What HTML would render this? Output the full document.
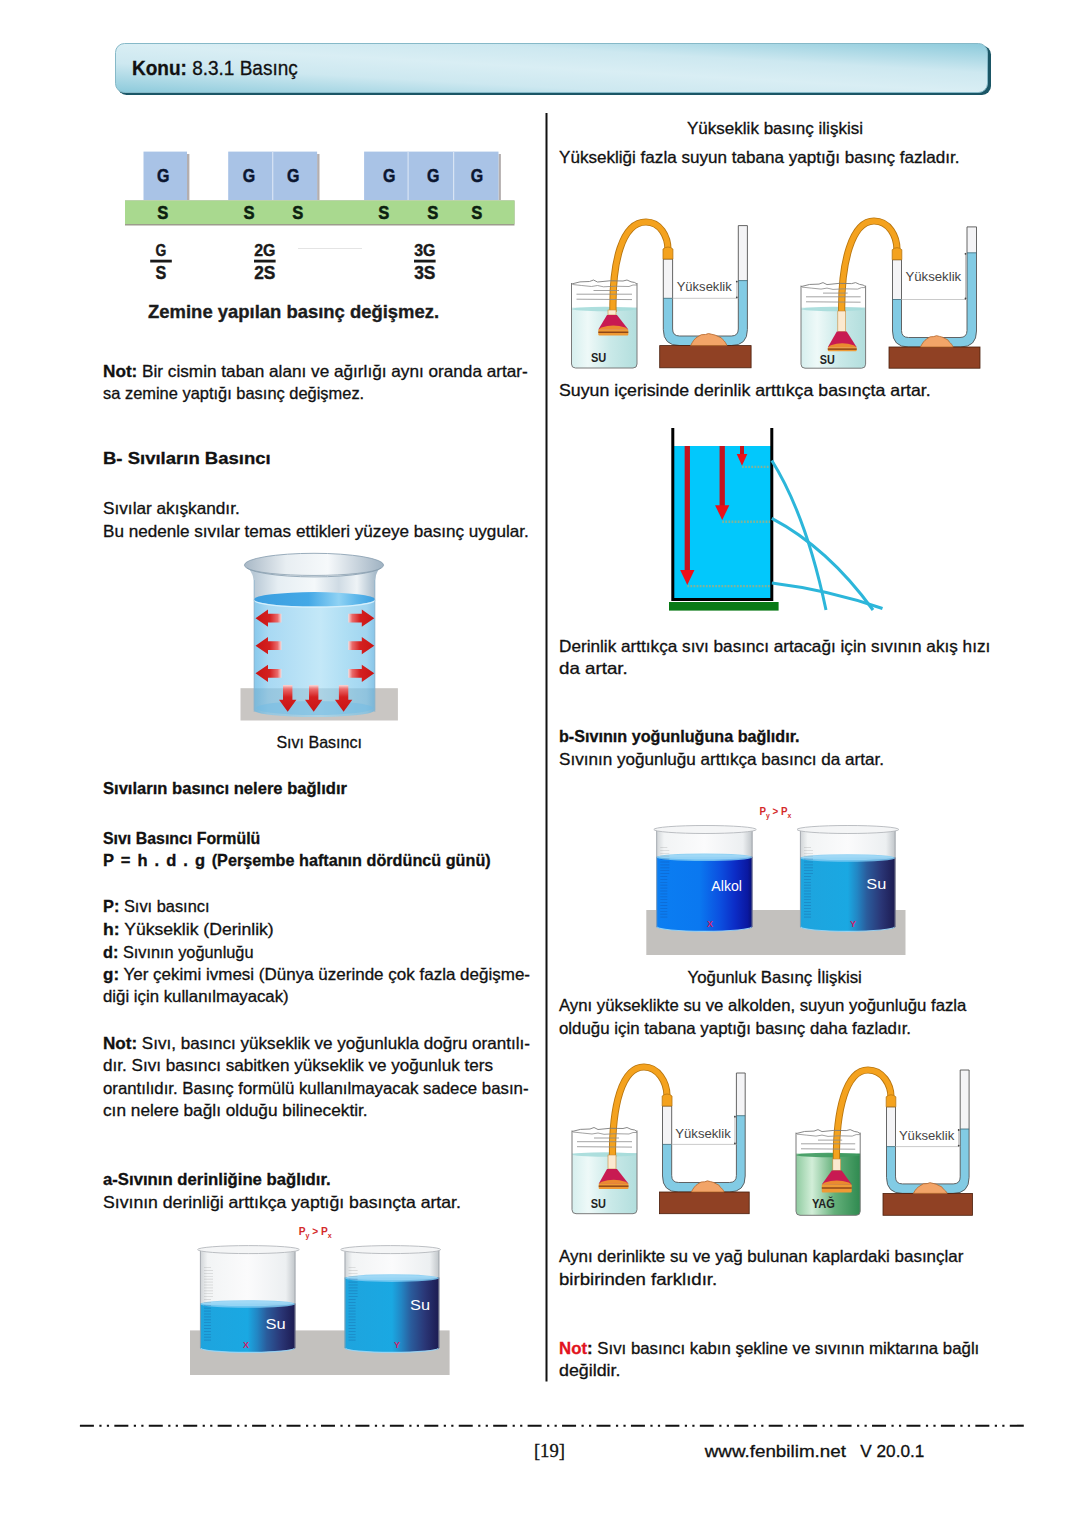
<!DOCTYPE html>
<html><head><meta charset="utf-8">
<style>
html,body{margin:0;padding:0;background:#fff;width:1080px;height:1527px;overflow:hidden}
svg{position:absolute;left:0;top:0;font-family:"Liberation Sans", sans-serif}
.bt{stroke:#111;stroke-width:0.3px}
</style></head><body>
<svg width="1080" height="1527" viewBox="0 0 1080 1527">
<defs>
<linearGradient id="hdr" x1="0" y1="1" x2="1" y2="0">
 <stop offset="0" stop-color="#8ccadb"/><stop offset="0.3" stop-color="#cde8f0"/><stop offset="0.5" stop-color="#d9eef4"/><stop offset="0.7" stop-color="#cde8f0"/><stop offset="1" stop-color="#8ccadb"/>
</linearGradient>
</defs>
<rect x="117.5" y="45.5" width="873.5" height="49.5" rx="9" fill="#1b5666"/>
<rect x="115.5" y="43.5" width="872" height="49" rx="9" fill="url(#hdr)" stroke="#86b9c8" stroke-width="1"/>
<rect x="545.5" y="113" width="2" height="1268.5" fill="#111"/>
<rect x="125" y="200.5" width="389.5" height="25" fill="#9c9c8c"/>
<rect x="125" y="200.5" width="389.5" height="23.5" fill="#a9d98f"/>
<rect x="187" y="154" width="2.4" height="46" fill="#b4aeae"/>
<rect x="143.5" y="151.6" width="43.5" height="48.4" fill="#a9c3e6"/>
<rect x="317.1" y="154" width="2.4" height="46" fill="#b4aeae"/>
<rect x="228.2" y="151.6" width="88.90000000000003" height="48.4" fill="#a9c3e6"/>
<rect x="498.5" y="154" width="2.4" height="46" fill="#b4aeae"/>
<rect x="364.1" y="151.6" width="134.39999999999998" height="48.4" fill="#a9c3e6"/>
<rect x="272.09999999999997" y="151.6" width="1.2" height="48.4" fill="#d8e4f4"/>
<rect x="407.5" y="151.6" width="1.2" height="48.4" fill="#d8e4f4"/>
<rect x="453.0" y="151.6" width="1.2" height="48.4" fill="#d8e4f4"/>
<rect x="150.2" y="259.7" width="21.6" height="2.8" fill="#1a1a1a"/>
<rect x="254.0" y="259.7" width="21.6" height="2.8" fill="#1a1a1a"/>
<rect x="414.0" y="259.7" width="21.6" height="2.8" fill="#1a1a1a"/>
<defs><linearGradient id="jw1" x1="0" y1="0" x2="1" y2="0">
<stop offset="0" stop-color="#d6efee"/><stop offset="0.25" stop-color="#eef9f8"/><stop offset="0.6" stop-color="#c9e9e8"/><stop offset="1" stop-color="#b2dedd"/></linearGradient></defs>
<path d="M571.5 307.5 L637 307.5 L637 364 Q637 368 633 368 L575.5 368 Q571.5 368 571.5 364 Z" fill="url(#jw1)"/>
<ellipse cx="604.25" cy="309.0" rx="32.75" ry="2.2" fill="#a6dcda" opacity="0.9"/>
<path d="M571.5 283 L571.5 364 Q571.5 368 575.5 368 L633 368 Q637 368 637 364 L637 283" fill="none" stroke="#7a7a7a" stroke-width="1"/>
<path d="M663.3 259 L663.3 329.5 Q663.3 345.5 679.3 345.5 L731.4 345.5 Q747.4 345.5 747.4 329.5 L747.4 225.6 L738.3 225.6 L738.3 329.0 Q738.3 336.0 731.3 336.0 L679.6 336.0 Q672.6 336.0 672.6 329.0 L672.6 259 Z" fill="#f4f4f6"/>
<path d="M663.3 298.3 L663.3 329.5 Q663.3 345.5 679.3 345.5 L731.4 345.5 Q747.4 345.5 747.4 329.5 L747.4 280.6 L738.3 280.6 L738.3 329.0 Q738.3 336.0 731.3 336.0 L679.6 336.0 Q672.6 336.0 672.6 329.0 L672.6 298.3 Z" fill="#82cbe4"/>
<path d="M663.3 259 L663.3 329.5 Q663.3 345.5 679.3 345.5 L731.4 345.5 Q747.4 345.5 747.4 329.5 L747.4 225.6 L738.3 225.6 L738.3 329.0 Q738.3 336.0 731.3 336.0 L679.6 336.0 Q672.6 336.0 672.6 329.0 L672.6 259 Z" fill="none" stroke="#555" stroke-width="0.9"/>
<line x1="663.3" y1="298.3" x2="672.6" y2="298.3" stroke="#3a6a7a" stroke-width="0.8"/>
<line x1="738.3" y1="280.6" x2="747.4" y2="280.6" stroke="#3a6a7a" stroke-width="0.8"/>
<line x1="672.6" y1="298.3" x2="738.3" y2="298.3" stroke="#c4c4c4" stroke-width="0.9"/>
<line x1="736.8" y1="280.6" x2="736.8" y2="298.3" stroke="#999" stroke-width="0.6"/>
<circle cx="736.8" cy="281.6" r="0.9" fill="#444"/><circle cx="736.8" cy="297.3" r="0.9" fill="#444"/>
<rect x="659.7" y="345.6" width="91.39999999999998" height="22.19999999999999" fill="#904124" stroke="#4a1e0c" stroke-width="0.8"/>
<path d="M690.6 345.6 C692.6 341.6 694.6 338.3 697.6800000000001 336.8 Q701.22 333.8 705.468 334.5 Q708.3 332.7 711.84 334.3 Q715.38 334.8 718.212 336.5 Q721.752 337.3 723 339.8 C725 341.3 726 343.6 727 345.6 Z" fill="#f2a468" stroke="#b4662c" stroke-width="0.8"/>
<path d="M613 312 C612 262 622 222 646 222 C660 222 668 236 668 250" fill="none" stroke="#b8750e" stroke-width="7.2" stroke-linecap="butt"/>
<path d="M613 312 C612 262 622 222 646 222 C660 222 668 236 668 250" fill="none" stroke="#f4a21e" stroke-width="5.4" stroke-linecap="butt"/>
<path d="M663.0 259 L663.0 249 Q667.95 245 672.9 249 L672.9 259 Z" fill="#f4a21e" stroke="#b8750e" stroke-width="0.8"/>
<rect x="608" y="310" width="8" height="5" fill="#fbe9cf" stroke="#c98a3a" stroke-width="0.6"/>
<path d="M607 315 L617 315 L628.3 329.4 L598.3 329.4 Z" fill="#c81a52"/>
<path d="M601.3 327.4 Q613.3 323.4 625.3 327.4 L628.3 329.4 L598.3 329.4 Z" fill="#ea8a30"/>
<rect x="598.3" y="329.4" width="30.0" height="6.2000000000000455" rx="1" fill="#ef9a34"/>
<line x1="598.3" y1="332.19" x2="628.3" y2="332.19" stroke="#6a2a10" stroke-width="1.1"/>
<path d="M571.5 284 Q579.5 281 589.5 281.5 L593.5 280 L597.5 282 Q610.25 280 623 281 L627 280 L631 281.8 Q635 282 637 284" fill="none" stroke="#7c7c7c" stroke-width="0.9"/>
<path d="M572.5 284.5 Q581.5 285.5 591.5 286.5 L597.5 285.5 L603.5 286.8 Q614.25 285.8 629 286.5 L633 285 L637 285" fill="none" stroke="#8a8a8a" stroke-width="0.8"/>
<line x1="593.5" y1="290.5" x2="619" y2="290.5" stroke="#8c8c8c" stroke-width="0.8"/>
<line x1="576.5" y1="294.2" x2="632" y2="294.2" stroke="#8c8c8c" stroke-width="0.8"/>
<line x1="576.5" y1="299.2" x2="632" y2="299.6" stroke="#8c8c8c" stroke-width="0.8"/>
<defs><linearGradient id="jw2" x1="0" y1="0" x2="1" y2="0">
<stop offset="0" stop-color="#d6efee"/><stop offset="0.25" stop-color="#eef9f8"/><stop offset="0.6" stop-color="#c9e9e8"/><stop offset="1" stop-color="#b2dedd"/></linearGradient></defs>
<path d="M801 307.5 L865.6 307.5 L865.6 364.2 Q865.6 368.2 861.6 368.2 L805 368.2 Q801 368.2 801 364.2 Z" fill="url(#jw2)"/>
<ellipse cx="833.3" cy="309.0" rx="32.30000000000001" ry="2.2" fill="#a6dcda" opacity="0.9"/>
<path d="M801 285.6 L801 364.2 Q801 368.2 805 368.2 L861.6 368.2 Q865.6 368.2 865.6 364.2 L865.6 285.6" fill="none" stroke="#7a7a7a" stroke-width="1"/>
<path d="M892.5 259.7 L892.5 331 Q892.5 347 908.5 347 L960.5 347 Q976.5 347 976.5 331 L976.5 226.9 L967 226.9 L967 330.5 Q967 337.5 960 337.5 L908.5 337.5 Q901.5 337.5 901.5 330.5 L901.5 259.7 Z" fill="#f4f4f6"/>
<path d="M892.5 299.5 L892.5 331 Q892.5 347 908.5 347 L960.5 347 Q976.5 347 976.5 331 L976.5 252.8 L967 252.8 L967 330.5 Q967 337.5 960 337.5 L908.5 337.5 Q901.5 337.5 901.5 330.5 L901.5 299.5 Z" fill="#82cbe4"/>
<path d="M892.5 259.7 L892.5 331 Q892.5 347 908.5 347 L960.5 347 Q976.5 347 976.5 331 L976.5 226.9 L967 226.9 L967 330.5 Q967 337.5 960 337.5 L908.5 337.5 Q901.5 337.5 901.5 330.5 L901.5 259.7 Z" fill="none" stroke="#555" stroke-width="0.9"/>
<line x1="892.5" y1="299.5" x2="901.5" y2="299.5" stroke="#3a6a7a" stroke-width="0.8"/>
<line x1="967" y1="252.8" x2="976.5" y2="252.8" stroke="#3a6a7a" stroke-width="0.8"/>
<line x1="901.5" y1="299.5" x2="967" y2="299.5" stroke="#c4c4c4" stroke-width="0.9"/>
<line x1="965.5" y1="252.8" x2="965.5" y2="299.5" stroke="#999" stroke-width="0.6"/>
<circle cx="965.5" cy="253.8" r="0.9" fill="#444"/><circle cx="965.5" cy="298.5" r="0.9" fill="#444"/>
<rect x="889" y="347" width="91" height="21.19999999999999" fill="#904124" stroke="#4a1e0c" stroke-width="0.8"/>
<path d="M920.4 347 C922.4 343 924.4 340.4 926.76 338.9 Q929.94 335.9 933.756 336.59999999999997 Q936.3 334.79999999999995 939.48 336.4 Q942.6600000000001 336.9 945.2040000000001 338.59999999999997 Q948.384 339.4 949.2 341.9 C951.2 343.4 952.2 345 953.2 347 Z" fill="#f2a468" stroke="#b4662c" stroke-width="0.8"/>
<path d="M841.7 312 C841 262 852 221 874 221 C889 221 897 236 897 250" fill="none" stroke="#b8750e" stroke-width="7.2" stroke-linecap="butt"/>
<path d="M841.7 312 C841 262 852 221 874 221 C889 221 897 236 897 250" fill="none" stroke="#f4a21e" stroke-width="5.4" stroke-linecap="butt"/>
<path d="M892.2 259.7 L892.2 249.7 Q897.0 245.7 901.8 249.7 L901.8 259.7 Z" fill="#f4a21e" stroke="#b8750e" stroke-width="0.8"/>
<rect x="837.8" y="311" width="7.900000000000091" height="20.399999999999977" fill="#fbe9cf" stroke="#c98a3a" stroke-width="0.6"/>
<path d="M836.8 331.4 L846.7 331.4 L856.7 347.3 L827.8 347.3 Z" fill="#c81a52"/>
<path d="M830.8 345.3 Q842.25 341.3 853.7 345.3 L856.7 347.3 L827.8 347.3 Z" fill="#ea8a30"/>
<rect x="827.8" y="347.3" width="28.90000000000009" height="4.0" rx="1" fill="#ef9a34"/>
<line x1="827.8" y1="349.1" x2="856.7" y2="349.1" stroke="#6a2a10" stroke-width="1.1"/>
<path d="M801 286.6 Q809 283.6 819 284.1 L823 282.6 L827 284.6 Q839.3 282.6 851.6 283.6 L855.6 282.6 L859.6 284.40000000000003 Q863.6 284.6 865.6 286.6" fill="none" stroke="#7c7c7c" stroke-width="0.9"/>
<path d="M802 287.1 Q811 288.1 821 289.1 L827 288.1 L833 289.40000000000003 Q843.3 288.40000000000003 857.6 289.1 L861.6 287.6 L865.6 287.6" fill="none" stroke="#8a8a8a" stroke-width="0.8"/>
<line x1="823" y1="293.1" x2="847.6" y2="293.1" stroke="#8c8c8c" stroke-width="0.8"/>
<line x1="806" y1="296.8" x2="860.6" y2="296.8" stroke="#8c8c8c" stroke-width="0.8"/>
<line x1="806" y1="301.8" x2="860.6" y2="302.20000000000005" stroke="#8c8c8c" stroke-width="0.8"/>
<defs><linearGradient id="jw3" x1="0" y1="0" x2="1" y2="0">
<stop offset="0" stop-color="#d6efee"/><stop offset="0.25" stop-color="#eef9f8"/><stop offset="0.6" stop-color="#c9e9e8"/><stop offset="1" stop-color="#b2dedd"/></linearGradient></defs>
<path d="M572 1153 L637 1153 L637 1209.7 Q637 1213.7 633 1213.7 L576 1213.7 Q572 1213.7 572 1209.7 Z" fill="url(#jw3)"/>
<ellipse cx="604.5" cy="1154.5" rx="32.5" ry="2.2" fill="#a6dcda" opacity="0.9"/>
<path d="M572 1130.5 L572 1209.7 Q572 1213.7 576 1213.7 L633 1213.7 Q637 1213.7 637 1209.7 L637 1130.5" fill="none" stroke="#7a7a7a" stroke-width="1"/>
<path d="M662.5 1106 L662.5 1176 Q662.5 1192 678.5 1192 L729.2 1192 Q745.2 1192 745.2 1176 L745.2 1073 L736.4 1073 L736.4 1175.5 Q736.4 1182.5 729.4 1182.5 L678.7 1182.5 Q671.7 1182.5 671.7 1175.5 L671.7 1106 Z" fill="#f4f4f6"/>
<path d="M662.5 1144.4 L662.5 1176 Q662.5 1192 678.5 1192 L729.2 1192 Q745.2 1192 745.2 1176 L745.2 1115.7 L736.4 1115.7 L736.4 1175.5 Q736.4 1182.5 729.4 1182.5 L678.7 1182.5 Q671.7 1182.5 671.7 1175.5 L671.7 1144.4 Z" fill="#82cbe4"/>
<path d="M662.5 1106 L662.5 1176 Q662.5 1192 678.5 1192 L729.2 1192 Q745.2 1192 745.2 1176 L745.2 1073 L736.4 1073 L736.4 1175.5 Q736.4 1182.5 729.4 1182.5 L678.7 1182.5 Q671.7 1182.5 671.7 1175.5 L671.7 1106 Z" fill="none" stroke="#555" stroke-width="0.9"/>
<line x1="662.5" y1="1144.4" x2="671.7" y2="1144.4" stroke="#3a6a7a" stroke-width="0.8"/>
<line x1="736.4" y1="1115.7" x2="745.2" y2="1115.7" stroke="#3a6a7a" stroke-width="0.8"/>
<line x1="671.7" y1="1144.4" x2="736.4" y2="1144.4" stroke="#c4c4c4" stroke-width="0.9"/>
<line x1="734.9" y1="1115.7" x2="734.9" y2="1144.4" stroke="#999" stroke-width="0.6"/>
<circle cx="734.9" cy="1116.7" r="0.9" fill="#444"/><circle cx="734.9" cy="1143.4" r="0.9" fill="#444"/>
<rect x="659.4" y="1192" width="89.80000000000007" height="21.700000000000045" fill="#904124" stroke="#4a1e0c" stroke-width="0.8"/>
<path d="M691.3 1192 C693.3 1188 695.3 1185.6 697.68 1184.1 Q700.87 1181.1 704.698 1181.8 Q707.25 1180.0 710.44 1181.6 Q713.63 1182.1 716.182 1183.8 Q719.3720000000001 1184.6 720.2 1187.1 C722.2 1188.6 723.2 1190 724.2 1192 Z" fill="#f2a468" stroke="#b4662c" stroke-width="0.8"/>
<path d="M612.5 1157 C612 1105 622 1067 644 1067 C658 1067 667 1082 667 1096" fill="none" stroke="#b8750e" stroke-width="7.2" stroke-linecap="butt"/>
<path d="M612.5 1157 C612 1105 622 1067 644 1067 C658 1067 667 1082 667 1096" fill="none" stroke="#f4a21e" stroke-width="5.4" stroke-linecap="butt"/>
<path d="M662.2 1106 L662.2 1096 Q667.1 1092 672.0 1096 L672.0 1106 Z" fill="#f4a21e" stroke="#b8750e" stroke-width="0.8"/>
<rect x="608" y="1155" width="8" height="14" fill="#fbe9cf" stroke="#c98a3a" stroke-width="0.6"/>
<path d="M607 1169 L617 1169 L628.5 1183.8 L598.7 1183.8 Z" fill="#c81a52"/>
<path d="M601.7 1181.8 Q613.6 1177.8 625.5 1181.8 L628.5 1183.8 L598.7 1183.8 Z" fill="#ea8a30"/>
<rect x="598.7" y="1183.8" width="29.799999999999955" height="5.2000000000000455" rx="1" fill="#ef9a34"/>
<line x1="598.7" y1="1186.1399999999999" x2="628.5" y2="1186.1399999999999" stroke="#6a2a10" stroke-width="1.1"/>
<path d="M572 1131.5 Q580 1128.5 590 1129.0 L594 1127.5 L598 1129.5 Q610.5 1127.5 623 1128.5 L627 1127.5 L631 1129.3 Q635 1129.5 637 1131.5" fill="none" stroke="#7c7c7c" stroke-width="0.9"/>
<path d="M573 1132.0 Q582 1133.0 592 1134.0 L598 1133.0 L604 1134.3 Q614.5 1133.3 629 1134.0 L633 1132.5 L637 1132.5" fill="none" stroke="#8a8a8a" stroke-width="0.8"/>
<line x1="594" y1="1138.0" x2="619" y2="1138.0" stroke="#8c8c8c" stroke-width="0.8"/>
<line x1="577" y1="1141.7" x2="632" y2="1141.7" stroke="#8c8c8c" stroke-width="0.8"/>
<line x1="577" y1="1146.7" x2="632" y2="1147.1" stroke="#8c8c8c" stroke-width="0.8"/>
<defs><linearGradient id="jw4" x1="0" y1="0" x2="1" y2="0">
<stop offset="0" stop-color="#8fcba0"/><stop offset="0.25" stop-color="#d2eed8"/><stop offset="0.6" stop-color="#64b07a"/><stop offset="1" stop-color="#2f8a50"/></linearGradient></defs>
<path d="M796 1153.5 L860.2 1153.5 L860.2 1211.3 Q860.2 1215.3 856.2 1215.3 L800 1215.3 Q796 1215.3 796 1211.3 Z" fill="url(#jw4)"/>
<ellipse cx="828.1" cy="1155.0" rx="32.10000000000002" ry="2.2" fill="#3f9a60" opacity="0.9"/>
<path d="M796 1132.6 L796 1211.3 Q796 1215.3 800 1215.3 L856.2 1215.3 Q860.2 1215.3 860.2 1211.3 L860.2 1132.6" fill="none" stroke="#7a7a7a" stroke-width="1"/>
<path d="M886.5 1106.8 L886.5 1177.4 Q886.5 1193.4 902.5 1193.4 L953.1 1193.4 Q969.1 1193.4 969.1 1177.4 L969.1 1070 L960.2 1070 L960.2 1176.9 Q960.2 1183.9 953.2 1183.9 L902.5 1183.9 Q895.5 1183.9 895.5 1176.9 L895.5 1106.8 Z" fill="#f4f4f6"/>
<path d="M886.5 1146.6 L886.5 1177.4 Q886.5 1193.4 902.5 1193.4 L953.1 1193.4 Q969.1 1193.4 969.1 1177.4 L969.1 1129 L960.2 1129 L960.2 1176.9 Q960.2 1183.9 953.2 1183.9 L902.5 1183.9 Q895.5 1183.9 895.5 1176.9 L895.5 1146.6 Z" fill="#82cbe4"/>
<path d="M886.5 1106.8 L886.5 1177.4 Q886.5 1193.4 902.5 1193.4 L953.1 1193.4 Q969.1 1193.4 969.1 1177.4 L969.1 1070 L960.2 1070 L960.2 1176.9 Q960.2 1183.9 953.2 1183.9 L902.5 1183.9 Q895.5 1183.9 895.5 1176.9 L895.5 1106.8 Z" fill="none" stroke="#555" stroke-width="0.9"/>
<line x1="886.5" y1="1146.6" x2="895.5" y2="1146.6" stroke="#3a6a7a" stroke-width="0.8"/>
<line x1="960.2" y1="1129" x2="969.1" y2="1129" stroke="#3a6a7a" stroke-width="0.8"/>
<line x1="895.5" y1="1146.6" x2="960.2" y2="1146.6" stroke="#c4c4c4" stroke-width="0.9"/>
<line x1="958.7" y1="1129" x2="958.7" y2="1146.6" stroke="#999" stroke-width="0.6"/>
<circle cx="958.7" cy="1130" r="0.9" fill="#444"/><circle cx="958.7" cy="1145.6" r="0.9" fill="#444"/>
<rect x="883" y="1193.4" width="89.5" height="21.899999999999864" fill="#904124" stroke="#4a1e0c" stroke-width="0.8"/>
<path d="M913.4 1193.4 C915.4 1189.4 917.4 1187.4 919.96 1185.9 Q923.24 1182.9 927.176 1183.6000000000001 Q929.8 1181.8000000000002 933.08 1183.4 Q936.36 1183.9 938.984 1185.6000000000001 Q942.264 1186.4 943.2 1188.9 C945.2 1190.4 946.2 1191.4 947.2 1193.4 Z" fill="#f2a468" stroke="#b4662c" stroke-width="0.8"/>
<path d="M836.4 1160 C836 1110 846 1070 868 1070 C883 1070 891 1085 891 1097" fill="none" stroke="#b8750e" stroke-width="7.2" stroke-linecap="butt"/>
<path d="M836.4 1160 C836 1110 846 1070 868 1070 C883 1070 891 1085 891 1097" fill="none" stroke="#f4a21e" stroke-width="5.4" stroke-linecap="butt"/>
<path d="M886.2 1106.8 L886.2 1096.8 Q891.0 1092.8 895.8 1096.8 L895.8 1106.8 Z" fill="#f4a21e" stroke="#b8750e" stroke-width="0.8"/>
<rect x="832.8" y="1159" width="7.900000000000091" height="11.5" fill="#fbe9cf" stroke="#c98a3a" stroke-width="0.6"/>
<path d="M831.8 1170.5 L841.7 1170.5 L851.7 1184.4 L821.8 1184.4 Z" fill="#c81a52"/>
<path d="M824.8 1182.4 Q836.75 1178.4 848.7 1182.4 L851.7 1184.4 L821.8 1184.4 Z" fill="#ea8a30"/>
<rect x="821.8" y="1184.4" width="29.90000000000009" height="8.0" rx="1" fill="#ef9a34"/>
<line x1="821.8" y1="1188.0" x2="851.7" y2="1188.0" stroke="#6a2a10" stroke-width="1.1"/>
<path d="M796 1133.6 Q804 1130.6 814 1131.1 L818 1129.6 L822 1131.6 Q834.1 1129.6 846.2 1130.6 L850.2 1129.6 L854.2 1131.3999999999999 Q858.2 1131.6 860.2 1133.6" fill="none" stroke="#7c7c7c" stroke-width="0.9"/>
<path d="M797 1134.1 Q806 1135.1 816 1136.1 L822 1135.1 L828 1136.3999999999999 Q838.1 1135.3999999999999 852.2 1136.1 L856.2 1134.6 L860.2 1134.6" fill="none" stroke="#8a8a8a" stroke-width="0.8"/>
<line x1="818" y1="1140.1" x2="842.2" y2="1140.1" stroke="#8c8c8c" stroke-width="0.8"/>
<line x1="801" y1="1143.8" x2="855.2" y2="1143.8" stroke="#8c8c8c" stroke-width="0.8"/>
<line x1="801" y1="1148.8" x2="855.2" y2="1149.1999999999998" stroke="#8c8c8c" stroke-width="0.8"/>
<defs>
<linearGradient id="bkw" x1="0" y1="0" x2="1" y2="0">
 <stop offset="0" stop-color="#7ec4ea"/><stop offset="0.12" stop-color="#a2d6f2"/><stop offset="0.55" stop-color="#bfe6f7"/><stop offset="0.75" stop-color="#a9dcf3"/><stop offset="0.93" stop-color="#9ad2ef"/><stop offset="1" stop-color="#7ec0e6"/>
</linearGradient>
<linearGradient id="bkg" gradientUnits="userSpaceOnUse" x1="253.9" y1="0" x2="375.1" y2="0">
 <stop offset="0" stop-color="#b9c9d6"/><stop offset="0.2" stop-color="#e6eef3"/><stop offset="0.5" stop-color="#f4f8fa"/><stop offset="0.7" stop-color="#cfdbe4"/><stop offset="0.85" stop-color="#eef3f6"/><stop offset="1" stop-color="#a9bccb"/>
</linearGradient>
<linearGradient id="bkr" x1="0" y1="0" x2="1" y2="0">
 <stop offset="0" stop-color="#a8b8c6"/><stop offset="0.3" stop-color="#e8eef2"/><stop offset="0.6" stop-color="#f6f9fb"/><stop offset="1" stop-color="#9fb2c2"/>
</linearGradient>
<linearGradient id="bkwt" x1="0" y1="0" x2="1" y2="0">
 <stop offset="0" stop-color="#3a9ee0"/><stop offset="0.45" stop-color="#44a8e6"/><stop offset="0.7" stop-color="#8fd2f4"/><stop offset="0.85" stop-color="#5cb6ea"/><stop offset="1" stop-color="#3a9ee0"/>
</linearGradient>
<linearGradient id="arL" x1="0" y1="0" x2="1" y2="0">
 <stop offset="0" stop-color="#c81414"/><stop offset="0.55" stop-color="#d42020"/><stop offset="0.85" stop-color="#ea6a6a"/><stop offset="1" stop-color="#fbdada"/>
</linearGradient>
<linearGradient id="arR" x1="1" y1="0" x2="0" y2="0">
 <stop offset="0" stop-color="#c81414"/><stop offset="0.55" stop-color="#d42020"/><stop offset="0.85" stop-color="#ea6a6a"/><stop offset="1" stop-color="#fbdada"/>
</linearGradient>
<linearGradient id="arD" x1="0" y1="1" x2="0" y2="0">
 <stop offset="0" stop-color="#c81414"/><stop offset="0.55" stop-color="#d42020"/><stop offset="0.85" stop-color="#ea6a6a"/><stop offset="1" stop-color="#fbdada"/>
</linearGradient>
</defs>
<rect x="240.5" y="688.2" width="157.4" height="32.3" fill="#c9c6c3"/>
<rect x="253.9" y="565" width="121.2" height="36" fill="url(#bkg)"/>
<path d="M253.9 599 L375.1 599 L375.1 710 A60.6 7 0 0 1 253.9 710 Z" fill="url(#bkw)" opacity="0.93"/>
<path d="M253.9 688.2 L375.1 688.2 L375.1 710 A60.6 7 0 0 1 253.9 710 Z" fill="#4a7d96" opacity="0.16"/>
<ellipse cx="314.5" cy="708" rx="58" ry="7" fill="#6fbce6" opacity="0.5"/>
<ellipse cx="314.5" cy="599.3" rx="60.6" ry="7.2" fill="url(#bkwt)"/>
<path d="M254 600 A60.5 7.2 0 0 0 375 600" fill="none" stroke="#d4effc" stroke-width="1.4"/>
<line x1="254.2" y1="570" x2="254.2" y2="712" stroke="#8fb4cc" stroke-width="0.8"/>
<line x1="374.8" y1="570" x2="374.8" y2="712" stroke="#8fb4cc" stroke-width="0.8"/>
<path d="M244.4 565.1 Q252 570 253.9 580 L375.1 580 Q376 570 383.6 565.1 Z" fill="url(#bkg)"/>
<ellipse cx="314" cy="565.1" rx="69.6" ry="11.8" fill="url(#bkr)" stroke="#8ea4b4" stroke-width="0.9"/>
<path d="M247 568 A68 9 0 0 0 381 568" fill="none" stroke="#8aa0b0" stroke-width="0.8"/>
<path d="M255.5 618.2 L268.0 609.6 L268.0 613.8000000000001 L281.4 613.8000000000001 L281.4 622.6 L268.0 622.6 L268.0 626.8000000000001 Z" fill="url(#arL)"/>
<path d="M374.3 618.2 L361.8 609.6 L361.8 613.8000000000001 L348.3 613.8000000000001 L348.3 622.6 L361.8 622.6 L361.8 626.8000000000001 Z" fill="url(#arR)"/>
<path d="M255.5 645.7 L268.0 637.1 L268.0 641.3000000000001 L281.4 641.3000000000001 L281.4 650.1 L268.0 650.1 L268.0 654.3000000000001 Z" fill="url(#arL)"/>
<path d="M374.3 645.7 L361.8 637.1 L361.8 641.3000000000001 L348.3 641.3000000000001 L348.3 650.1 L361.8 650.1 L361.8 654.3000000000001 Z" fill="url(#arR)"/>
<path d="M255.5 673.3 L268.0 664.6999999999999 L268.0 668.9 L281.4 668.9 L281.4 677.6999999999999 L268.0 677.6999999999999 L268.0 681.9 Z" fill="url(#arL)"/>
<path d="M374.3 673.3 L361.8 664.6999999999999 L361.8 668.9 L348.3 668.9 L348.3 677.6999999999999 L361.8 677.6999999999999 L361.8 681.9 Z" fill="url(#arR)"/>
<path d="M287.7 711.8 L279.0 699.8 L283.0 699.8 L283.0 685 L292.4 685 L292.4 699.8 L296.4 699.8 Z" fill="url(#arD)"/>
<path d="M313.7 711.8 L305.0 699.8 L309.0 699.8 L309.0 685 L318.4 685 L318.4 699.8 L322.4 699.8 Z" fill="url(#arD)"/>
<path d="M343.6 711.8 L334.90000000000003 699.8 L338.90000000000003 699.8 L338.90000000000003 685 L348.3 685 L348.3 699.8 L352.3 699.8 Z" fill="url(#arD)"/>
<defs>
<linearGradient id="gAlk" x1="0" y1="0" x2="1" y2="0">
 <stop offset="0" stop-color="#0b7ef2"/><stop offset="0.45" stop-color="#0a78f0"/><stop offset="0.66" stop-color="#0c50e0"/><stop offset="0.82" stop-color="#0c2cc6"/><stop offset="0.95" stop-color="#0a18a0"/><stop offset="1" stop-color="#081070"/>
</linearGradient>
<linearGradient id="gSu" x1="0" y1="0" x2="1" y2="0">
 <stop offset="0" stop-color="#1ea4de"/><stop offset="0.5" stop-color="#1aa8e2"/><stop offset="0.6" stop-color="#2286c4"/><stop offset="0.7" stop-color="#2a5c9c"/><stop offset="0.85" stop-color="#2a3676"/><stop offset="1" stop-color="#1c1a50"/>
</linearGradient>
<linearGradient id="gGlass" x1="0" y1="0" x2="1" y2="0">
 <stop offset="0" stop-color="#cfd3d6"/><stop offset="0.08" stop-color="#f2f4f5"/><stop offset="0.5" stop-color="#fbfbfc"/><stop offset="0.9" stop-color="#eceff1"/><stop offset="1" stop-color="#bfc4c8"/>
</linearGradient>
</defs>
<rect x="646.3" y="910" width="259.2" height="45" fill="#c3c1be"/>
<rect x="656.3" y="829.5" width="96.20000000000005" height="28.299999999999955" fill="url(#gGlass)"/>
<path d="M656.3 856.8 L752.5 856.8 L752.5 926.8 A48.10000000000002 4.5 0 0 1 656.3 926.8 Z" fill="url(#gAlk)"/>
<path d="M657.3 926.8 A47.10000000000002 4.5 0 0 0 751.5 926.8" fill="none" stroke="#9ad6f6" stroke-width="1.2" opacity="0.9"/>
<ellipse cx="704.4" cy="857.3" rx="48.10000000000002" ry="3.8" fill="#7ccaf2" opacity="0.85"/>
<ellipse cx="704.4" cy="856.8" rx="46.10000000000002" ry="2.6" fill="#a6dcf6" opacity="0.7"/>
<line x1="660.3" y1="847.5" x2="667.3" y2="847.5" stroke="#8a8a8a" stroke-width="0.6" opacity="0.4"/>
<line x1="660.3" y1="850.4" x2="669.3" y2="850.4" stroke="#8a8a8a" stroke-width="0.6" opacity="0.4"/>
<line x1="660.3" y1="853.3" x2="669.3" y2="853.3" stroke="#8a8a8a" stroke-width="0.6" opacity="0.4"/>
<line x1="660.3" y1="856.2" x2="669.3" y2="856.2" stroke="#8a8a8a" stroke-width="0.6" opacity="0.4"/>
<line x1="660.3" y1="859.1" x2="669.3" y2="859.1" stroke="#1a3a80" stroke-width="0.6" opacity="0.4"/>
<line x1="660.3" y1="862.0" x2="669.3" y2="862.0" stroke="#1a3a80" stroke-width="0.6" opacity="0.4"/>
<line x1="660.3" y1="864.9" x2="669.3" y2="864.9" stroke="#1a3a80" stroke-width="0.6" opacity="0.4"/>
<line x1="660.3" y1="867.8" x2="669.3" y2="867.8" stroke="#1a3a80" stroke-width="0.6" opacity="0.4"/>
<line x1="660.3" y1="870.7" x2="669.3" y2="870.7" stroke="#1a3a80" stroke-width="0.6" opacity="0.4"/>
<line x1="660.3" y1="873.6" x2="669.3" y2="873.6" stroke="#1a3a80" stroke-width="0.6" opacity="0.4"/>
<line x1="660.3" y1="876.5" x2="667.3" y2="876.5" stroke="#1a3a80" stroke-width="0.6" opacity="0.4"/>
<line x1="660.3" y1="879.4" x2="667.3" y2="879.4" stroke="#1a3a80" stroke-width="0.6" opacity="0.4"/>
<line x1="660.3" y1="882.3" x2="667.3" y2="882.3" stroke="#1a3a80" stroke-width="0.6" opacity="0.4"/>
<line x1="660.3" y1="885.2" x2="667.3" y2="885.2" stroke="#1a3a80" stroke-width="0.6" opacity="0.4"/>
<line x1="660.3" y1="888.1" x2="667.3" y2="888.1" stroke="#1a3a80" stroke-width="0.6" opacity="0.4"/>
<line x1="660.3" y1="891.0" x2="667.3" y2="891.0" stroke="#1a3a80" stroke-width="0.6" opacity="0.4"/>
<line x1="660.3" y1="893.9" x2="667.3" y2="893.9" stroke="#1a3a80" stroke-width="0.6" opacity="0.4"/>
<line x1="660.3" y1="896.8" x2="667.3" y2="896.8" stroke="#1a3a80" stroke-width="0.6" opacity="0.4"/>
<line x1="660.3" y1="899.7" x2="667.3" y2="899.7" stroke="#1a3a80" stroke-width="0.6" opacity="0.4"/>
<line x1="660.3" y1="902.6" x2="667.3" y2="902.6" stroke="#1a3a80" stroke-width="0.6" opacity="0.4"/>
<line x1="660.3" y1="905.5" x2="667.3" y2="905.5" stroke="#1a3a80" stroke-width="0.6" opacity="0.4"/>
<line x1="660.3" y1="908.4" x2="667.3" y2="908.4" stroke="#1a3a80" stroke-width="0.6" opacity="0.4"/>
<line x1="660.3" y1="911.3" x2="667.3" y2="911.3" stroke="#1a3a80" stroke-width="0.6" opacity="0.4"/>
<line x1="660.3" y1="914.2" x2="667.3" y2="914.2" stroke="#1a3a80" stroke-width="0.6" opacity="0.4"/>
<line x1="660.3" y1="917.1" x2="667.3" y2="917.1" stroke="#1a3a80" stroke-width="0.6" opacity="0.4"/>
<line x1="656.6999999999999" y1="829.5" x2="656.6999999999999" y2="926.8" stroke="#9aa0a6" stroke-width="0.8"/>
<line x1="752.1" y1="829.5" x2="752.1" y2="926.8" stroke="#9aa0a6" stroke-width="0.8"/>
<ellipse cx="705.05" cy="829.5" rx="51.25" ry="4" fill="#f4f5f6" stroke="#b4b8bc" stroke-width="0.9"/>
<rect x="800" y="829.5" width="95.5" height="29.0" fill="url(#gGlass)"/>
<path d="M800 857.5 L895.5 857.5 L895.5 926.8 A47.75 4.5 0 0 1 800 926.8 Z" fill="url(#gSu)"/>
<path d="M801 926.8 A46.75 4.5 0 0 0 894.5 926.8" fill="none" stroke="#9ad6f6" stroke-width="1.2" opacity="0.9"/>
<ellipse cx="847.75" cy="858.0" rx="47.75" ry="3.8" fill="#7ccaf2" opacity="0.85"/>
<ellipse cx="847.75" cy="857.5" rx="45.75" ry="2.6" fill="#a6dcf6" opacity="0.7"/>
<line x1="804" y1="847.5" x2="811" y2="847.5" stroke="#8a8a8a" stroke-width="0.6" opacity="0.4"/>
<line x1="804" y1="850.4" x2="813" y2="850.4" stroke="#8a8a8a" stroke-width="0.6" opacity="0.4"/>
<line x1="804" y1="853.3" x2="813" y2="853.3" stroke="#8a8a8a" stroke-width="0.6" opacity="0.4"/>
<line x1="804" y1="856.2" x2="813" y2="856.2" stroke="#8a8a8a" stroke-width="0.6" opacity="0.4"/>
<line x1="804" y1="859.1" x2="813" y2="859.1" stroke="#1a3a80" stroke-width="0.6" opacity="0.4"/>
<line x1="804" y1="862.0" x2="813" y2="862.0" stroke="#1a3a80" stroke-width="0.6" opacity="0.4"/>
<line x1="804" y1="864.9" x2="813" y2="864.9" stroke="#1a3a80" stroke-width="0.6" opacity="0.4"/>
<line x1="804" y1="867.8" x2="813" y2="867.8" stroke="#1a3a80" stroke-width="0.6" opacity="0.4"/>
<line x1="804" y1="870.7" x2="813" y2="870.7" stroke="#1a3a80" stroke-width="0.6" opacity="0.4"/>
<line x1="804" y1="873.6" x2="813" y2="873.6" stroke="#1a3a80" stroke-width="0.6" opacity="0.4"/>
<line x1="804" y1="876.5" x2="811" y2="876.5" stroke="#1a3a80" stroke-width="0.6" opacity="0.4"/>
<line x1="804" y1="879.4" x2="811" y2="879.4" stroke="#1a3a80" stroke-width="0.6" opacity="0.4"/>
<line x1="804" y1="882.3" x2="811" y2="882.3" stroke="#1a3a80" stroke-width="0.6" opacity="0.4"/>
<line x1="804" y1="885.2" x2="811" y2="885.2" stroke="#1a3a80" stroke-width="0.6" opacity="0.4"/>
<line x1="804" y1="888.1" x2="811" y2="888.1" stroke="#1a3a80" stroke-width="0.6" opacity="0.4"/>
<line x1="804" y1="891.0" x2="811" y2="891.0" stroke="#1a3a80" stroke-width="0.6" opacity="0.4"/>
<line x1="804" y1="893.9" x2="811" y2="893.9" stroke="#1a3a80" stroke-width="0.6" opacity="0.4"/>
<line x1="804" y1="896.8" x2="811" y2="896.8" stroke="#1a3a80" stroke-width="0.6" opacity="0.4"/>
<line x1="804" y1="899.7" x2="811" y2="899.7" stroke="#1a3a80" stroke-width="0.6" opacity="0.4"/>
<line x1="804" y1="902.6" x2="811" y2="902.6" stroke="#1a3a80" stroke-width="0.6" opacity="0.4"/>
<line x1="804" y1="905.5" x2="811" y2="905.5" stroke="#1a3a80" stroke-width="0.6" opacity="0.4"/>
<line x1="804" y1="908.4" x2="811" y2="908.4" stroke="#1a3a80" stroke-width="0.6" opacity="0.4"/>
<line x1="804" y1="911.3" x2="811" y2="911.3" stroke="#1a3a80" stroke-width="0.6" opacity="0.4"/>
<line x1="804" y1="914.2" x2="811" y2="914.2" stroke="#1a3a80" stroke-width="0.6" opacity="0.4"/>
<line x1="804" y1="917.1" x2="811" y2="917.1" stroke="#1a3a80" stroke-width="0.6" opacity="0.4"/>
<line x1="800.4" y1="829.5" x2="800.4" y2="926.8" stroke="#9aa0a6" stroke-width="0.8"/>
<line x1="895.1" y1="829.5" x2="895.1" y2="926.8" stroke="#9aa0a6" stroke-width="0.8"/>
<ellipse cx="847.9" cy="829.5" rx="50.89999999999998" ry="4" fill="#f4f5f6" stroke="#b4b8bc" stroke-width="0.9"/>
<rect x="190" y="1330.4" width="259.6" height="44.6" fill="#c3c1be"/>
<rect x="200" y="1249.6" width="95.39999999999998" height="54.90000000000009" fill="url(#gGlass)"/>
<path d="M200 1303.5 L295.4 1303.5 L295.4 1347.9 A47.69999999999999 4.5 0 0 1 200 1347.9 Z" fill="url(#gSu)"/>
<path d="M201 1347.9 A46.69999999999999 4.5 0 0 0 294.4 1347.9" fill="none" stroke="#9ad6f6" stroke-width="1.2" opacity="0.9"/>
<ellipse cx="247.7" cy="1304.0" rx="47.69999999999999" ry="3.8" fill="#7ccaf2" opacity="0.85"/>
<ellipse cx="247.7" cy="1303.5" rx="45.69999999999999" ry="2.6" fill="#a6dcf6" opacity="0.7"/>
<line x1="204" y1="1267.6" x2="211" y2="1267.6" stroke="#8a8a8a" stroke-width="0.6" opacity="0.4"/>
<line x1="204" y1="1270.5" x2="213" y2="1270.5" stroke="#8a8a8a" stroke-width="0.6" opacity="0.4"/>
<line x1="204" y1="1273.4" x2="213" y2="1273.4" stroke="#8a8a8a" stroke-width="0.6" opacity="0.4"/>
<line x1="204" y1="1276.3" x2="213" y2="1276.3" stroke="#8a8a8a" stroke-width="0.6" opacity="0.4"/>
<line x1="204" y1="1279.2" x2="213" y2="1279.2" stroke="#8a8a8a" stroke-width="0.6" opacity="0.4"/>
<line x1="204" y1="1282.1" x2="213" y2="1282.1" stroke="#8a8a8a" stroke-width="0.6" opacity="0.4"/>
<line x1="204" y1="1285.0" x2="213" y2="1285.0" stroke="#8a8a8a" stroke-width="0.6" opacity="0.4"/>
<line x1="204" y1="1287.9" x2="213" y2="1287.9" stroke="#8a8a8a" stroke-width="0.6" opacity="0.4"/>
<line x1="204" y1="1290.8" x2="213" y2="1290.8" stroke="#8a8a8a" stroke-width="0.6" opacity="0.4"/>
<line x1="204" y1="1293.7" x2="213" y2="1293.7" stroke="#8a8a8a" stroke-width="0.6" opacity="0.4"/>
<line x1="204" y1="1296.6" x2="213" y2="1296.6" stroke="#8a8a8a" stroke-width="0.6" opacity="0.4"/>
<line x1="204" y1="1299.5" x2="211" y2="1299.5" stroke="#8a8a8a" stroke-width="0.6" opacity="0.4"/>
<line x1="204" y1="1302.4" x2="211" y2="1302.4" stroke="#8a8a8a" stroke-width="0.6" opacity="0.4"/>
<line x1="204" y1="1305.3" x2="211" y2="1305.3" stroke="#1a3a80" stroke-width="0.6" opacity="0.4"/>
<line x1="204" y1="1308.2" x2="211" y2="1308.2" stroke="#1a3a80" stroke-width="0.6" opacity="0.4"/>
<line x1="204" y1="1311.1" x2="211" y2="1311.1" stroke="#1a3a80" stroke-width="0.6" opacity="0.4"/>
<line x1="204" y1="1314.0" x2="211" y2="1314.0" stroke="#1a3a80" stroke-width="0.6" opacity="0.4"/>
<line x1="204" y1="1316.9" x2="211" y2="1316.9" stroke="#1a3a80" stroke-width="0.6" opacity="0.4"/>
<line x1="204" y1="1319.8" x2="211" y2="1319.8" stroke="#1a3a80" stroke-width="0.6" opacity="0.4"/>
<line x1="204" y1="1322.7" x2="211" y2="1322.7" stroke="#1a3a80" stroke-width="0.6" opacity="0.4"/>
<line x1="204" y1="1325.6" x2="211" y2="1325.6" stroke="#1a3a80" stroke-width="0.6" opacity="0.4"/>
<line x1="204" y1="1328.5" x2="211" y2="1328.5" stroke="#1a3a80" stroke-width="0.6" opacity="0.4"/>
<line x1="204" y1="1331.4" x2="211" y2="1331.4" stroke="#1a3a80" stroke-width="0.6" opacity="0.4"/>
<line x1="204" y1="1334.3" x2="211" y2="1334.3" stroke="#1a3a80" stroke-width="0.6" opacity="0.4"/>
<line x1="204" y1="1337.2" x2="211" y2="1337.2" stroke="#1a3a80" stroke-width="0.6" opacity="0.4"/>
<line x1="204" y1="1340.1" x2="211" y2="1340.1" stroke="#1a3a80" stroke-width="0.6" opacity="0.4"/>
<line x1="200.4" y1="1249.6" x2="200.4" y2="1347.9" stroke="#9aa0a6" stroke-width="0.8"/>
<line x1="295.0" y1="1249.6" x2="295.0" y2="1347.9" stroke="#9aa0a6" stroke-width="0.8"/>
<ellipse cx="248.45" cy="1249.6" rx="50.85000000000001" ry="4" fill="#f4f5f6" stroke="#b4b8bc" stroke-width="0.9"/>
<rect x="344.6" y="1249.6" width="94.69999999999999" height="29.0" fill="url(#gGlass)"/>
<path d="M344.6 1277.6 L439.3 1277.6 L439.3 1347.9 A47.349999999999994 4.5 0 0 1 344.6 1347.9 Z" fill="url(#gSu)"/>
<path d="M345.6 1347.9 A46.349999999999994 4.5 0 0 0 438.3 1347.9" fill="none" stroke="#9ad6f6" stroke-width="1.2" opacity="0.9"/>
<ellipse cx="391.95000000000005" cy="1278.1" rx="47.349999999999994" ry="3.8" fill="#7ccaf2" opacity="0.85"/>
<ellipse cx="391.95000000000005" cy="1277.6" rx="45.349999999999994" ry="2.6" fill="#a6dcf6" opacity="0.7"/>
<line x1="348.6" y1="1267.6" x2="355.6" y2="1267.6" stroke="#8a8a8a" stroke-width="0.6" opacity="0.4"/>
<line x1="348.6" y1="1270.5" x2="357.6" y2="1270.5" stroke="#8a8a8a" stroke-width="0.6" opacity="0.4"/>
<line x1="348.6" y1="1273.4" x2="357.6" y2="1273.4" stroke="#8a8a8a" stroke-width="0.6" opacity="0.4"/>
<line x1="348.6" y1="1276.3" x2="357.6" y2="1276.3" stroke="#8a8a8a" stroke-width="0.6" opacity="0.4"/>
<line x1="348.6" y1="1279.2" x2="357.6" y2="1279.2" stroke="#1a3a80" stroke-width="0.6" opacity="0.4"/>
<line x1="348.6" y1="1282.1" x2="357.6" y2="1282.1" stroke="#1a3a80" stroke-width="0.6" opacity="0.4"/>
<line x1="348.6" y1="1285.0" x2="357.6" y2="1285.0" stroke="#1a3a80" stroke-width="0.6" opacity="0.4"/>
<line x1="348.6" y1="1287.9" x2="357.6" y2="1287.9" stroke="#1a3a80" stroke-width="0.6" opacity="0.4"/>
<line x1="348.6" y1="1290.8" x2="357.6" y2="1290.8" stroke="#1a3a80" stroke-width="0.6" opacity="0.4"/>
<line x1="348.6" y1="1293.7" x2="357.6" y2="1293.7" stroke="#1a3a80" stroke-width="0.6" opacity="0.4"/>
<line x1="348.6" y1="1296.6" x2="357.6" y2="1296.6" stroke="#1a3a80" stroke-width="0.6" opacity="0.4"/>
<line x1="348.6" y1="1299.5" x2="355.6" y2="1299.5" stroke="#1a3a80" stroke-width="0.6" opacity="0.4"/>
<line x1="348.6" y1="1302.4" x2="355.6" y2="1302.4" stroke="#1a3a80" stroke-width="0.6" opacity="0.4"/>
<line x1="348.6" y1="1305.3" x2="355.6" y2="1305.3" stroke="#1a3a80" stroke-width="0.6" opacity="0.4"/>
<line x1="348.6" y1="1308.2" x2="355.6" y2="1308.2" stroke="#1a3a80" stroke-width="0.6" opacity="0.4"/>
<line x1="348.6" y1="1311.1" x2="355.6" y2="1311.1" stroke="#1a3a80" stroke-width="0.6" opacity="0.4"/>
<line x1="348.6" y1="1314.0" x2="355.6" y2="1314.0" stroke="#1a3a80" stroke-width="0.6" opacity="0.4"/>
<line x1="348.6" y1="1316.9" x2="355.6" y2="1316.9" stroke="#1a3a80" stroke-width="0.6" opacity="0.4"/>
<line x1="348.6" y1="1319.8" x2="355.6" y2="1319.8" stroke="#1a3a80" stroke-width="0.6" opacity="0.4"/>
<line x1="348.6" y1="1322.7" x2="355.6" y2="1322.7" stroke="#1a3a80" stroke-width="0.6" opacity="0.4"/>
<line x1="348.6" y1="1325.6" x2="355.6" y2="1325.6" stroke="#1a3a80" stroke-width="0.6" opacity="0.4"/>
<line x1="348.6" y1="1328.5" x2="355.6" y2="1328.5" stroke="#1a3a80" stroke-width="0.6" opacity="0.4"/>
<line x1="348.6" y1="1331.4" x2="355.6" y2="1331.4" stroke="#1a3a80" stroke-width="0.6" opacity="0.4"/>
<line x1="348.6" y1="1334.3" x2="355.6" y2="1334.3" stroke="#1a3a80" stroke-width="0.6" opacity="0.4"/>
<line x1="348.6" y1="1337.2" x2="355.6" y2="1337.2" stroke="#1a3a80" stroke-width="0.6" opacity="0.4"/>
<line x1="348.6" y1="1340.1" x2="355.6" y2="1340.1" stroke="#1a3a80" stroke-width="0.6" opacity="0.4"/>
<line x1="345.0" y1="1249.6" x2="345.0" y2="1347.9" stroke="#9aa0a6" stroke-width="0.8"/>
<line x1="438.90000000000003" y1="1249.6" x2="438.90000000000003" y2="1347.9" stroke="#9aa0a6" stroke-width="0.8"/>
<ellipse cx="390.65" cy="1249.6" rx="49.95000000000002" ry="4" fill="#f4f5f6" stroke="#b4b8bc" stroke-width="0.9"/>
<rect x="672.8" y="446" width="99" height="153" fill="#02c8fc"/>
<path d="M672.8 428 L672.8 599.4 L771.8 599.4 L771.8 428" fill="none" stroke="#000" stroke-width="3"/>
<rect x="669" y="602" width="109.6" height="8.6" fill="#0a7a16"/>
<line x1="742" y1="466.9" x2="770" y2="466.9" stroke="#7fb49c" stroke-width="2.4" stroke-dasharray="1.8 1.3"/>
<line x1="722.2" y1="521.8" x2="770" y2="521.8" stroke="#7fb49c" stroke-width="2.4" stroke-dasharray="1.8 1.3"/>
<line x1="687.3" y1="586.1" x2="770" y2="586.1" stroke="#7fb49c" stroke-width="2.4" stroke-dasharray="1.8 1.3"/>
<rect x="740.0" y="446" width="4" height="9" fill="#c4141e"/>
<path d="M736.7 454 L747.3 454 L742 465.8 Z" fill="#ee1018"/>
<rect x="719.5500000000001" y="446" width="5.3" height="60.19999999999999" fill="#c4141e"/>
<path d="M715.0500000000001 505.2 L729.35 505.2 L722.2 520 Z" fill="#ee1018"/>
<rect x="684.65" y="446" width="5.3" height="125" fill="#c4141e"/>
<path d="M680.15 570 L694.4499999999999 570 L687.3 585 Z" fill="#ee1018"/>
<path d="M771.8 460.5 Q806 515 826 610" fill="none" stroke="#2cb6da" stroke-width="3"/>
<path d="M771.8 518.4 Q828 548 873 610" fill="none" stroke="#2cb6da" stroke-width="3"/>
<path d="M771.8 582.9 Q830 590 882.5 608.5" fill="none" stroke="#2cb6da" stroke-width="3"/>
<line x1="79.9" y1="1425.7" x2="1024.4" y2="1425.7" stroke="#111" stroke-width="2.1" stroke-dasharray="14 5.45 2.2 5.3 2.2 5.29"/>
<line x1="298" y1="248.5" x2="362" y2="248.5" stroke="#e4e4e4" stroke-width="1.2"/>
<text x="103" y="377" font-size="16.5" fill="#111" class="bt" textLength="424.8" lengthAdjust="spacingAndGlyphs"><tspan font-weight="bold">Not:</tspan><tspan> Bir cismin taban alanı ve ağırlığı aynı oranda artar-</tspan></text>
<text x="103" y="399" font-size="16.5" fill="#111" class="bt" textLength="261.2" lengthAdjust="spacingAndGlyphs"><tspan>sa zemine yaptığı basınç değişmez.</tspan></text>
<text x="103" y="464.3" font-size="16.5" fill="#111" class="bt" textLength="167.7" lengthAdjust="spacingAndGlyphs"><tspan font-weight="bold">B- Sıvıların Basıncı</tspan></text>
<text x="103" y="514.4" font-size="16.5" fill="#111" class="bt" textLength="136.7" lengthAdjust="spacingAndGlyphs"><tspan>Sıvılar akışkandır.</tspan></text>
<text x="103" y="537.3" font-size="16.5" fill="#111" class="bt" textLength="425.7" lengthAdjust="spacingAndGlyphs"><tspan>Bu nedenle sıvılar temas ettikleri yüzeye basınç uygular.</tspan></text>
<text x="276.4" y="748.3" font-size="16.5" fill="#111" class="bt" textLength="85.6" lengthAdjust="spacingAndGlyphs"><tspan>Sıvı Basıncı</tspan></text>
<text x="103" y="794.4" font-size="16.5" fill="#111" class="bt" textLength="244.0" lengthAdjust="spacingAndGlyphs"><tspan font-weight="bold">Sıvıların basıncı nelere bağlıdır</tspan></text>
<text x="103" y="843.7" font-size="16.5" fill="#111" class="bt" textLength="157.3" lengthAdjust="spacingAndGlyphs"><tspan font-weight="bold">Sıvı Basıncı Formülü</tspan></text>
<text x="103" y="866.4" font-size="16.5" fill="#111" class="bt" textLength="102.1" lengthAdjust="spacing"><tspan font-weight="bold">P = h . d . g</tspan></text>
<text x="211.7" y="866.4" font-size="16.5" fill="#111" class="bt" textLength="279.0" lengthAdjust="spacingAndGlyphs"><tspan font-weight="bold">(Perşembe haftanın dördüncü günü)</tspan></text>
<text x="103" y="911.7" font-size="16.5" fill="#111" class="bt" textLength="106.5" lengthAdjust="spacingAndGlyphs"><tspan font-weight="bold">P:</tspan><tspan> Sıvı basıncı</tspan></text>
<text x="103" y="934.6" font-size="16.5" fill="#111" class="bt" textLength="170.7" lengthAdjust="spacingAndGlyphs"><tspan font-weight="bold">h:</tspan><tspan> Yükseklik (Derinlik)</tspan></text>
<text x="103" y="957.5" font-size="16.5" fill="#111" class="bt" textLength="150.5" lengthAdjust="spacingAndGlyphs"><tspan font-weight="bold">d:</tspan><tspan> Sıvının yoğunluğu</tspan></text>
<text x="103" y="979.8" font-size="16.5" fill="#111" class="bt" textLength="427.0" lengthAdjust="spacingAndGlyphs"><tspan font-weight="bold">g:</tspan><tspan> Yer çekimi ivmesi (Dünya üzerinde çok fazla değişme-</tspan></text>
<text x="103" y="1002.3" font-size="16.5" fill="#111" class="bt" textLength="185.7" lengthAdjust="spacingAndGlyphs"><tspan>diği için kullanılmayacak)</tspan></text>
<text x="103" y="1048.7" font-size="16.5" fill="#111" class="bt" textLength="427.0" lengthAdjust="spacingAndGlyphs"><tspan font-weight="bold">Not:</tspan><tspan>  Sıvı, basıncı yükseklik ve yoğunlukla doğru orantılı-</tspan></text>
<text x="103" y="1070.8" font-size="16.5" fill="#111" class="bt" textLength="390.0" lengthAdjust="spacingAndGlyphs"><tspan>dır. Sıvı basıncı sabitken yükseklik ve yoğunluk ters</tspan></text>
<text x="103" y="1093.75" font-size="16.5" fill="#111" class="bt" textLength="425.5" lengthAdjust="spacingAndGlyphs"><tspan>orantılıdır. Basınç formülü kullanılmayacak sadece basın-</tspan></text>
<text x="103" y="1115.8" font-size="16.5" fill="#111" class="bt" textLength="264.6" lengthAdjust="spacingAndGlyphs"><tspan>cın nelere bağlı olduğu bilinecektir.</tspan></text>
<text x="103" y="1185" font-size="16.5" fill="#111" class="bt" textLength="227.7" lengthAdjust="spacingAndGlyphs"><tspan font-weight="bold">a-Sıvının derinliğine bağlıdır.</tspan></text>
<text x="103" y="1207.5" font-size="16.5" fill="#111" class="bt" textLength="357.9" lengthAdjust="spacingAndGlyphs"><tspan>Sıvının derinliği arttıkça yaptığı basınçta artar.</tspan></text>
<text x="687" y="134.3" font-size="16.5" fill="#111" class="bt" textLength="176.0" lengthAdjust="spacingAndGlyphs"><tspan>Yükseklik basınç ilişkisi</tspan></text>
<text x="559" y="163.3" font-size="16.5" fill="#111" class="bt" textLength="400.5" lengthAdjust="spacingAndGlyphs"><tspan>Yüksekliği fazla suyun tabana yaptığı basınç fazladır.</tspan></text>
<text x="559" y="395.9" font-size="16.5" fill="#111" class="bt" textLength="371.7" lengthAdjust="spacingAndGlyphs"><tspan>Suyun içerisinde derinlik arttıkça basınçta artar.</tspan></text>
<text x="559" y="651.7" font-size="16.5" fill="#111" class="bt" textLength="431.3" lengthAdjust="spacingAndGlyphs"><tspan>Derinlik arttıkça sıvı basıncı artacağı için sıvının akış hızı</tspan></text>
<text x="559" y="674.2" font-size="16.5" fill="#111" class="bt" textLength="68.8" lengthAdjust="spacingAndGlyphs"><tspan>da artar.</tspan></text>
<text x="559" y="742.2" font-size="16.5" fill="#111" class="bt" textLength="240.6" lengthAdjust="spacingAndGlyphs"><tspan font-weight="bold">b-Sıvının yoğunluğuna bağlıdır.</tspan></text>
<text x="559" y="764.7" font-size="16.5" fill="#111" class="bt" textLength="324.9" lengthAdjust="spacingAndGlyphs"><tspan>Sıvının yoğunluğu arttıkça basıncı da artar.</tspan></text>
<text x="687.5" y="982.5" font-size="16.5" fill="#111" class="bt" textLength="174.3" lengthAdjust="spacingAndGlyphs"><tspan>Yoğunluk Basınç İlişkisi</tspan></text>
<text x="559" y="1010.8" font-size="16.5" fill="#111" class="bt" textLength="407.4" lengthAdjust="spacingAndGlyphs"><tspan>Aynı yükseklikte su ve alkolden, suyun yoğunluğu fazla</tspan></text>
<text x="559" y="1033.9" font-size="16.5" fill="#111" class="bt" textLength="352.0" lengthAdjust="spacingAndGlyphs"><tspan>olduğu için tabana yaptığı basınç daha fazladır.</tspan></text>
<text x="559" y="1262.3" font-size="16.5" fill="#111" class="bt" textLength="404.4" lengthAdjust="spacingAndGlyphs"><tspan>Aynı derinlikte su ve yağ bulunan kaplardaki basınçlar</tspan></text>
<text x="559" y="1285.4" font-size="16.5" fill="#111" class="bt" textLength="158.2" lengthAdjust="spacingAndGlyphs"><tspan>birbirinden farklıdır.</tspan></text>
<text x="559" y="1353.9" font-size="16.5" fill="#111" class="bt" textLength="420.3" lengthAdjust="spacingAndGlyphs"><tspan font-weight="bold" fill="#e2141e" stroke="#e2141e">Not</tspan><tspan font-weight="bold">:</tspan><tspan> Sıvı basıncı kabın şekline ve sıvının miktarına bağlı</tspan></text>
<text x="559" y="1375.6" font-size="16.5" fill="#111" class="bt" textLength="61.5" lengthAdjust="spacingAndGlyphs"><tspan>değildir.</tspan></text>
<text x="533.9" y="1456.7" font-size="19" font-family="Liberation Serif, serif" fill="#111" stroke="#111" stroke-width="0.3" textLength="31.1" lengthAdjust="spacingAndGlyphs">[19]</text>
<text x="704.7" y="1457" font-size="17" fill="#111" class="bt" textLength="141.3" lengthAdjust="spacingAndGlyphs"><tspan>www.fenbilim.net</tspan></text>
<text x="860.3" y="1457" font-size="17" fill="#111" class="bt" textLength="64.1" lengthAdjust="spacingAndGlyphs"><tspan>V 20.0.1</tspan></text>
<text x="132" y="75.2" font-size="20.5" fill="#111" class="bt" textLength="165.8" lengthAdjust="spacingAndGlyphs"><tspan font-weight="bold">Konu:</tspan><tspan> 8.3.1 Basınç</tspan></text>
<text transform="translate(163.3 182.4) scale(0.84 1)" font-size="19" font-weight="bold" fill="#0b1630" stroke="#0b1630" stroke-width="0.5" text-anchor="middle">G</text>
<text transform="translate(249 182.4) scale(0.84 1)" font-size="19" font-weight="bold" fill="#0b1630" stroke="#0b1630" stroke-width="0.5" text-anchor="middle">G</text>
<text transform="translate(293.2 182.4) scale(0.84 1)" font-size="19" font-weight="bold" fill="#0b1630" stroke="#0b1630" stroke-width="0.5" text-anchor="middle">G</text>
<text transform="translate(389.3 182.4) scale(0.84 1)" font-size="19" font-weight="bold" fill="#0b1630" stroke="#0b1630" stroke-width="0.5" text-anchor="middle">G</text>
<text transform="translate(433.1 182.4) scale(0.84 1)" font-size="19" font-weight="bold" fill="#0b1630" stroke="#0b1630" stroke-width="0.5" text-anchor="middle">G</text>
<text transform="translate(477 182.4) scale(0.84 1)" font-size="19" font-weight="bold" fill="#0b1630" stroke="#0b1630" stroke-width="0.5" text-anchor="middle">G</text>
<text transform="translate(162.9 219.4) scale(0.9 1)" font-size="18.4" font-weight="bold" fill="#0c2010" stroke="#0c2010" stroke-width="0.5" text-anchor="middle">S</text>
<text transform="translate(249 219.4) scale(0.9 1)" font-size="18.4" font-weight="bold" fill="#0c2010" stroke="#0c2010" stroke-width="0.5" text-anchor="middle">S</text>
<text transform="translate(297.9 219.4) scale(0.9 1)" font-size="18.4" font-weight="bold" fill="#0c2010" stroke="#0c2010" stroke-width="0.5" text-anchor="middle">S</text>
<text transform="translate(383.7 219.4) scale(0.9 1)" font-size="18.4" font-weight="bold" fill="#0c2010" stroke="#0c2010" stroke-width="0.5" text-anchor="middle">S</text>
<text transform="translate(432.8 219.4) scale(0.9 1)" font-size="18.4" font-weight="bold" fill="#0c2010" stroke="#0c2010" stroke-width="0.5" text-anchor="middle">S</text>
<text transform="translate(476.8 219.4) scale(0.9 1)" font-size="18.4" font-weight="bold" fill="#0c2010" stroke="#0c2010" stroke-width="0.5" text-anchor="middle">S</text>
<text x="155.6" y="255.9" font-size="16.8" font-weight="bold" fill="#1a1a1a" stroke="#1a1a1a" stroke-width="0.4" textLength="10.8" lengthAdjust="spacingAndGlyphs">G</text>
<text x="155.6" y="279.2" font-size="17.5" font-weight="bold" fill="#1a1a1a" stroke="#1a1a1a" stroke-width="0.4" textLength="10.8" lengthAdjust="spacingAndGlyphs">S</text>
<text x="254.2" y="255.9" font-size="16.8" font-weight="bold" fill="#1a1a1a" stroke="#1a1a1a" stroke-width="0.4" textLength="21.2" lengthAdjust="spacingAndGlyphs">2G</text>
<text x="254.2" y="279.2" font-size="17.5" font-weight="bold" fill="#1a1a1a" stroke="#1a1a1a" stroke-width="0.4" textLength="21.2" lengthAdjust="spacingAndGlyphs">2S</text>
<text x="414.2" y="255.9" font-size="16.8" font-weight="bold" fill="#1a1a1a" stroke="#1a1a1a" stroke-width="0.4" textLength="21.2" lengthAdjust="spacingAndGlyphs">3G</text>
<text x="414.2" y="279.2" font-size="17.5" font-weight="bold" fill="#1a1a1a" stroke="#1a1a1a" stroke-width="0.4" textLength="21.2" lengthAdjust="spacingAndGlyphs">3S</text>
<text x="148.1" y="318" font-size="19" font-weight="bold" fill="#1c1c1c" stroke="#1c1c1c" stroke-width="0.35" textLength="291" lengthAdjust="spacingAndGlyphs">Zemine yapılan basınç değişmez.</text>
<rect x="674.7" y="280" width="59.0" height="14" fill="#fff" opacity="0.85"/>
<text x="676.7" y="291" font-size="12.4" fill="#454545" textLength="55.0" lengthAdjust="spacingAndGlyphs">Yükseklik</text>
<text x="591" y="362" font-size="12" font-weight="bold" fill="#222" textLength="15.3" lengthAdjust="spacingAndGlyphs">SU</text>
<rect x="903.4" y="270" width="59.80000000000007" height="14" fill="#fff" opacity="0.85"/>
<text x="905.4" y="281" font-size="12.4" fill="#454545" textLength="55.8" lengthAdjust="spacingAndGlyphs">Yükseklik</text>
<text x="819.8" y="363.5" font-size="12" font-weight="bold" fill="#222" textLength="15" lengthAdjust="spacingAndGlyphs">SU</text>
<rect x="673.3" y="1127" width="59.40000000000009" height="14" fill="#fff" opacity="0.85"/>
<text x="675.3" y="1138" font-size="12.4" fill="#454545" textLength="55.4" lengthAdjust="spacingAndGlyphs">Yükseklik</text>
<text x="590.8" y="1208" font-size="12" font-weight="bold" fill="#222" textLength="15.2" lengthAdjust="spacingAndGlyphs">SU</text>
<rect x="896.9" y="1129" width="59.30000000000007" height="14" fill="#fff" opacity="0.85"/>
<text x="898.9" y="1140" font-size="12.4" fill="#454545" textLength="55.3" lengthAdjust="spacingAndGlyphs">Yükseklik</text>
<text x="811.9" y="1207.5" font-size="12" font-weight="bold" fill="#222" textLength="22.9" lengthAdjust="spacingAndGlyphs">YAĞ</text>
<text x="711.3" y="891.3" font-size="14" fill="#fff" textLength="30.7" lengthAdjust="spacingAndGlyphs">Alkol</text>
<text x="710" y="927" font-size="9" font-weight="bold" fill="#d0206a" text-anchor="middle">X</text>
<text x="866.3" y="888.8" font-size="15.5" fill="#fff" textLength="20" lengthAdjust="spacingAndGlyphs">Su</text>
<text x="853" y="927" font-size="9" font-weight="bold" fill="#d0206a" text-anchor="middle">Y</text>
<text x="759.5" y="814.5" font-size="11.5" font-weight="bold" fill="#d42a2a" textLength="31.7" lengthAdjust="spacingAndGlyphs">P<tspan font-size="8" dy="3">y</tspan><tspan dy="-3"> &gt; P</tspan><tspan font-size="8" dy="3">x</tspan></text>
<text x="265.6" y="1328.5" font-size="15.5" fill="#fff" textLength="20.2" lengthAdjust="spacingAndGlyphs">Su</text>
<text x="246" y="1348" font-size="9" font-weight="bold" fill="#d0206a" text-anchor="middle">X</text>
<text x="410" y="1310" font-size="15.5" fill="#fff" textLength="20" lengthAdjust="spacingAndGlyphs">Su</text>
<text x="397" y="1348" font-size="9" font-weight="bold" fill="#d0206a" text-anchor="middle">Y</text>
<text x="298.7" y="1235" font-size="11.5" font-weight="bold" fill="#d42a2a" textLength="33" lengthAdjust="spacingAndGlyphs">P<tspan font-size="8" dy="3">y</tspan><tspan dy="-3"> &gt; P</tspan><tspan font-size="8" dy="3">x</tspan></text>
</svg>
</body></html>
